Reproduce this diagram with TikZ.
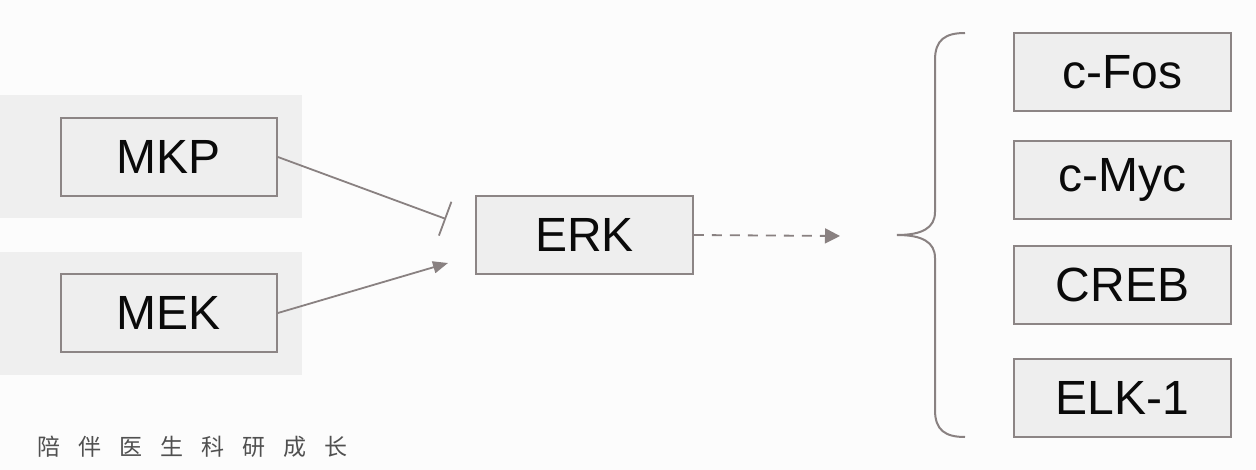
\documentclass[tikz,border=0pt]{standalone}
\usepackage{fontspec}
\setmainfont{Liberation Sans}
\newfontfamily\cjk{Noto Sans CJK SC}
\usetikzlibrary{arrows.meta}
\definecolor{bgcol}{RGB}{252,252,252}
\definecolor{panelcol}{RGB}{239,239,239}
\definecolor{boxfill}{RGB}{238,238,238}
\definecolor{boxline}{RGB}{140,133,133}
\definecolor{edgecol}{RGB}{137,129,129}
\definecolor{txtcol}{RGB}{10,10,10}
\definecolor{cjkcol}{RGB}{80,80,80}
\newcommand{\cjgap}{\hspace{18pt}}
\tikzset{
  genebox/.style={draw=boxline, fill=boxfill, line width=1.8pt, minimum width=216pt,
    minimum height=78pt, inner sep=0pt, text=txtcol, font=\fontsize{48}{52}\selectfont},
  panel/.style={fill=panelcol, draw=none},
  conn/.style={draw=edgecol, line width=1.8pt},
}
\begin{document}
\begin{tikzpicture}[x=1pt,y=-1pt]
\fill[bgcol] (0,0) rectangle (1256,470);
\useasboundingbox (0,0) rectangle (1256,470);
% panels
\fill[panel] (0,95) rectangle (302,218);
\fill[panel] (0,252) rectangle (302,375);
% nodes
\node[genebox] (mkp) at (169,157) {MKP};
\node[genebox] (mek) at (169,313) {MEK};
\node[genebox, minimum width=217pt] (erk) at (584.5,235) {ERK};
\node[genebox, minimum width=217pt] (fos) at (1122.5,72) {c-Fos};
\node[genebox, minimum width=217pt] (myc) at (1122.5,180) {c-Myc};
\node[genebox, minimum width=217pt] (creb) at (1122.5,285) {CREB};
\node[genebox, minimum width=217pt] (elk) at (1122.5,398) {ELK-1};
% connector endpoints
\coordinate (inh) at (446,219);
\coordinate (act) at (448,263);
\coordinate (dash) at (840,236);
\draw[conn, -{Bar[width=36pt,line width=1.8pt]}] (mkp.east) -- (inh);
\draw[conn, -{Triangle[length=15pt,width=12pt]}] (mek.east) -- (act);
\draw[conn, dash pattern=on 10pt off 8pt, -{Triangle[length=15pt,width=15pt]}] (erk.east) -- (dash);
% brace
\draw[edgecol, line width=2pt] (965,33) .. controls (945,33) and (935,40) .. (935,60)
  -- (935,212) .. controls (935,228) and (922,235) .. (897,235)
  .. controls (922,235) and (935,242) .. (935,258)
  -- (935,410) .. controls (935,430) and (945,437) .. (965,437);
% footer
\node[anchor=west, inner sep=0pt, text=cjkcol, font=\cjk\fontsize{23}{26}\selectfont] (foot) at (37,447)
  {陪\cjgap 伴\cjgap 医\cjgap 生\cjgap 科\cjgap 研\cjgap 成\cjgap 长};
\end{tikzpicture}
\end{document}
